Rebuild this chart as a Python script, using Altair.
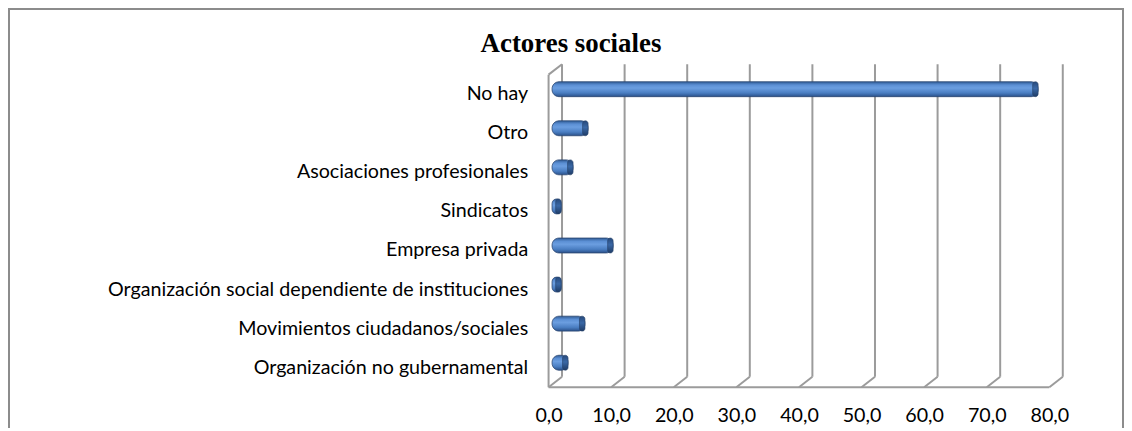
import altair as alt
import pandas as pd

# ---- data ----
categories = [
    "No hay",
    "Otro",
    "Asociaciones profesionales",
    "Sindicatos",
    "Empresa privada",
    "Organización social dependiente de instituciones",
    "Movimientos ciudadanos/sociales",
    "Organización no gubernamental",
]
values = [76.7, 4.8, 2.4, 0.5, 8.8, 0.5, 4.3, 1.6]
ticks = [0, 10, 20, 30, 40, 50, 60, 70, 80]
title_text = "Actores sociales"

# ---- layout / style ----
W, H = 503, 314
DX, DY = 13.5, -10.5          # 3-D depth offset of the back wall
GRID = "#9b9b9b"
LABEL_FONT = "Lato"
LABEL_SIZE = 19.75

bars_df = pd.DataFrame({"cat": categories, "value": values, "start": [0] * len(values)})
ticks_df = pd.DataFrame({"t": ticks})
ends_df = pd.DataFrame({"a": [ticks[0]], "b": [ticks[-1]]})

xs = alt.Scale(domain=[ticks[0], ticks[-1]], nice=False, zero=False)
ys = alt.Scale(domain=categories, paddingInner=0, paddingOuter=0)

x_axis = alt.Axis(
    values=ticks,
    labelExpr="replace(format(datum.value, '.1f'), '.', ',')",
    grid=False, domain=False, ticks=False, title=None, labelFlush=False,
    labelPadding=18, labelFontSize=LABEL_SIZE, labelFont=LABEL_FONT,
    labelColor="#000000",
)
y_axis = alt.Axis(
    title=None, domain=False, ticks=False, grid=False,
    labelPadding=21, labelFontSize=LABEL_SIZE, labelFont=LABEL_FONT,
    labelColor="#000000", labelLimit=600,
)


def X(field):
    return alt.X(field, scale=xs, axis=x_axis)


def Y():
    return alt.Y("cat:N", scale=ys, sort=categories, axis=y_axis)


# outer chart frame (decoration)
frame = alt.Chart(ends_df).mark_rect(
    fill="transparent", stroke="#8c8c8c", strokeWidth=2
).encode(
    x=alt.value(-542), x2=alt.value(577), y=alt.value(-66), y2=alt.value(380)
)

# back-wall vertical gridlines
back = alt.Chart(ticks_df).mark_rule(
    color=GRID, strokeWidth=2, xOffset=DX, x2Offset=DX, yOffset=DY, y2Offset=DY
).encode(
    x=X("t:Q"), y=alt.value(0), y2=alt.value(H),
)

# floor depth diagonals
diag = alt.Chart(ticks_df).mark_rule(
    color=GRID, strokeWidth=2, x2Offset=DX, y2Offset=DY
).encode(
    x=X("t:Q"), x2="t:Q", y=alt.value(H), y2=alt.value(H),
)

# front floor edge
floor = alt.Chart(ends_df).mark_rule(color=GRID, strokeWidth=2).encode(
    x=X("a:Q"), x2="b:Q", y=alt.value(H)
)

# left wall front edge + top diagonal
wall_front = alt.Chart(ends_df).mark_rule(color=GRID, strokeWidth=2).encode(
    x=X("a:Q"), y=alt.value(0), y2=alt.value(H)
)
wall_top = alt.Chart(ends_df).mark_rule(
    color=GRID, strokeWidth=2, x2Offset=DX, y2Offset=DY
).encode(
    x=X("a:Q"), x2="a:Q", y=alt.value(0), y2=alt.value(0)
)

body_grad = alt.Gradient(
    gradient="linear", x1=0, x2=0, y1=0, y2=1,
    stops=[
        alt.GradientStop(color="#2f5b95", offset=0),
        alt.GradientStop(color="#5b8fd4", offset=0.22),
        alt.GradientStop(color="#6b9ee0", offset=0.42),
        alt.GradientStop(color="#4a7ec2", offset=0.75),
        alt.GradientStop(color="#2a5089", offset=1),
    ],
)
cap_grad = alt.Gradient(
    gradient="linear", x1=0, x2=0, y1=0, y2=1,
    stops=[
        alt.GradientStop(color="#27497a", offset=0),
        alt.GradientStop(color="#3a68a6", offset=0.45),
        alt.GradientStop(color="#1f3c66", offset=1),
    ],
)

bars = alt.Chart(bars_df).mark_bar(
    height=15, yOffset=-5, xOffset=3.5, x2Offset=9.5,
    cornerRadius=7, color=body_grad, stroke="#2a4670", strokeWidth=0.8,
).encode(
    x=X("start:Q"), x2="value:Q", y=Y(),
)

caps = alt.Chart(bars_df).mark_bar(
    height=15, yOffset=-5, xOffset=4, x2Offset=9.5,
    cornerRadius=3, color=cap_grad, stroke="#233f66", strokeWidth=0.6,
).encode(
    x=X("value:Q"), x2="value:Q", y=Y(),
)

chart = alt.layer(
    frame, back, diag, floor, wall_front, wall_top, bars, caps
).properties(
    width=W, height=H,
    padding={"left": 543, "top": 66, "right": 75, "bottom": 40},
    autosize=alt.AutoSizeParams(type="none"),
    title=alt.TitleParams(
        title_text, font="Liberation Serif", fontSize=27, fontWeight="bold",
        color="#000000", anchor="middle", frame="group", dx=-229, offset=-50,
    ),
).configure_view(stroke=None)

chart.save("out.html", embed_options={"renderer": "svg", "actions": False})
